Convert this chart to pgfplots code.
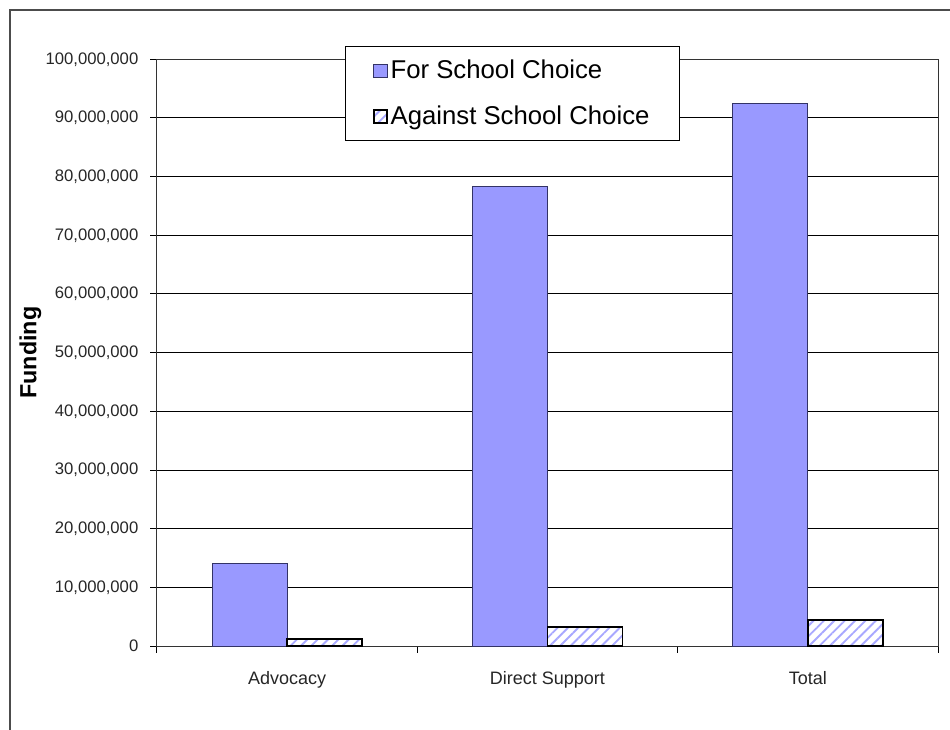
\documentclass[border=0pt]{standalone}
\usepackage{fontspec}
\setmainfont{Liberation Sans}
\usepackage{pgfplots}
\pgfplotsset{compat=1.18}
\usetikzlibrary{patterns.meta}
\definecolor{forblue}{HTML}{9999FF}
\definecolor{edge}{HTML}{333366}

\begin{document}
\begin{tikzpicture}
\useasboundingbox (-117.75pt,-62.25pt) rectangle (594.75pt,484.5pt);
\draw[line width=1.5pt, black!70] (-110.25pt,-80pt) -- (-110.25pt,477pt) -- (620pt,477pt);
\begin{axis}[
    at={(0,0)}, anchor=south west,
    scale only axis,
    width=585.75pt, height=440pt,
    xmin=0.5, xmax=3.5,
    ymin=0, ymax=100000000,
    ybar=0pt, bar width=56.25pt,
    xtick={1,2,3},
    xticklabels={Advocacy,Direct Support,Total},
    minor xtick={0.5,1.5,2.5,3.5},
    major x tick style={draw=none},
    ytick={0,10000000,20000000,30000000,40000000,50000000,60000000,70000000,80000000,90000000,100000000},
    scaled y ticks=false,
    /pgf/number format/fixed,
    /pgf/number format/1000 sep={,},
    /pgf/number format/assume math mode=true,
    tick pos=left,
    tick align=outside,
    major tick length=5pt, minor tick length=5pt,
    tick style={black, line width=0.75pt},
    axis line style={black!80, line width=0.75pt},
    ymajorgrids,
    grid style={black, line width=0.75pt},
    yticklabel style={font=\fontsize{12.5pt}{14pt}\selectfont, color=black!85, xshift=-5.5pt},
    xticklabel style={font=\fontsize{13.5pt}{15pt}\selectfont, color=black!85, yshift=-10.5pt},
    ylabel={Funding},
    ylabel style={font=\bfseries\fontsize{17.5pt}{20pt}\selectfont, at={(axis description cs:-0.162,0.5)}, anchor=center},
    legend style={at={(axis description cs:0.2407,1.022)}, anchor=north west,
        draw=black, fill=white, line width=0.8pt,
        font=\fontsize{19.3pt}{22pt}\selectfont,
        inner xsep=20.5pt, inner ysep=8pt, row sep=15pt},
    legend cell align=left,
    legend image code/.code={\draw[#1] (0pt,-5pt) rectangle (10pt,5pt);},
]
\addplot[fill=forblue, draw=edge, line width=0.6pt]
    coordinates {(1,14000000) (2,78300000) (3,92500000)};
\addplot[fill=white, draw=black, line width=1.3pt,
    postaction={pattern={Lines[angle=45,distance=5.5pt,line width=1.4pt]}, pattern color=forblue!85}]
    coordinates {(1,1200000) (2,3200000) (3,4400000)};
\legend{For School Choice,Against School Choice}
\end{axis}
\end{tikzpicture}
\end{document}
